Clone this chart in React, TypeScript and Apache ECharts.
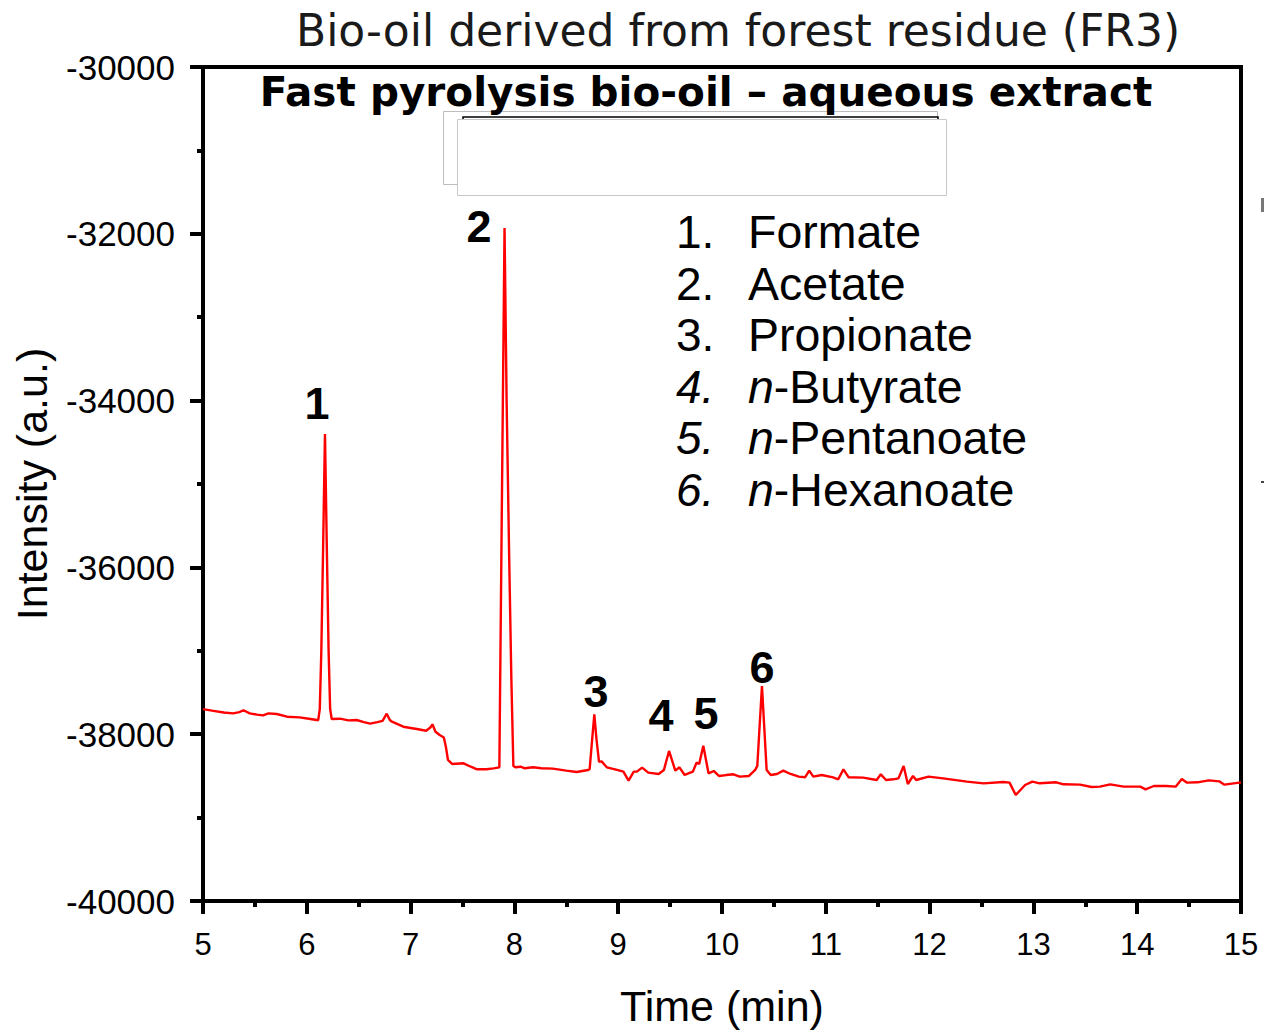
import React, { useEffect, useRef } from "react";
import * as echarts from "echarts";

const timeMin = [
  5.0, 5.1, 5.2, 5.29, 5.35, 5.39, 5.45, 5.52, 5.58, 5.63, 5.71, 5.81, 5.93, 6.02, 6.11,
  6.125, 6.14, 6.158, 6.175, 6.192, 6.21, 6.225, 6.24, 6.32, 6.4, 6.48, 6.55, 6.61, 6.68,
  6.73, 6.77, 6.8, 6.82, 6.93, 7.0, 7.06, 7.15, 7.19, 7.21, 7.24, 7.28, 7.32, 7.34, 7.36,
  7.4, 7.51, 7.58, 7.64, 7.73, 7.8, 7.855, 7.88, 7.905, 7.925, 7.95, 7.97, 7.99, 8.01,
  8.06, 8.1, 8.18, 8.26, 8.37, 8.5, 8.6, 8.71, 8.725, 8.75, 8.77, 8.79, 8.815, 8.84, 8.89,
  8.97, 9.05, 9.1, 9.15, 9.18, 9.23, 9.29, 9.39, 9.44, 9.49, 9.55, 9.59, 9.64, 9.72, 9.755,
  9.78, 9.82, 9.87, 9.92, 9.97, 10.04, 10.11, 10.17, 10.26, 10.32, 10.34, 10.385, 10.43,
  10.47, 10.53, 10.59, 10.66, 10.74, 10.8, 10.84, 10.88, 10.96, 11.07, 11.12, 11.17, 11.22,
  11.36, 11.49, 11.53, 11.58, 11.65, 11.7, 11.75, 11.79, 11.84, 11.87, 11.99, 12.13, 12.36,
  12.52, 12.71, 12.77, 12.83, 12.92, 12.99, 13.06, 13.22, 13.29, 13.45, 13.56, 13.64, 13.74,
  13.87, 14.03, 14.08, 14.16, 14.28, 14.37, 14.43, 14.48, 14.58, 14.69, 14.79, 14.84, 14.93,
  15.0,
];

const intensity = [
  -37700, -37720, -37740, -37750, -37735, -37713, -37750, -37765, -37774, -37750, -37758,
  -37790, -37798, -37815, -37832,
  -37700, -37000, -35700, -34400, -35700, -37000, -37700, -37818, -37814, -37834, -37830,
  -37855, -37874, -37855,
  -37840, -37754, -37830, -37850, -37910, -37925, -37938, -37958, -37920, -37881, -37970,
  -38010, -38040, -38150, -38309,
  -38357, -38349, -38390, -38421, -38421, -38410, -38397, -35150, -31930, -34000, -35900,
  -37300, -38380, -38397,
  -38390, -38409, -38397, -38409, -38413, -38437, -38453, -38429, -38420, -38050, -37762,
  -38050, -38330, -38326, -38397,
  -38421, -38449, -38557, -38449, -38449, -38401, -38461, -38477, -38430, -38201, -38437,
  -38397, -38489, -38449, -38341,
  -38357, -38138, -38469, -38441, -38501, -38490, -38481, -38509, -38501, -38429, -38380,
  -37422, -38429,
  -38489, -38477, -38437, -38477, -38509, -38517, -38437, -38509, -38489, -38517, -38541,
  -38421, -38517,
  -38521, -38549, -38481, -38549, -38541, -38530, -38381, -38597, -38501, -38549, -38509,
  -38530, -38569,
  -38589, -38573, -38581, -38729, -38609, -38569, -38589, -38577, -38601, -38605, -38633,
  -38629, -38601,
  -38629, -38629, -38661, -38621, -38621, -38629, -38537, -38581, -38577, -38553, -38565,
  -38605, -38589,
  -38577,
];

const peakLabels = ["1", "2", "3", "4", "5", "6"];
const peakLabelTime = [6.098, 7.66, 8.786, 9.412, 9.846, 10.385];
const peakLabelIntensity = [-34029, -31918, -37494, -37770, -37746, -37206];

const legendNumbers = ["1.", "2.", "3.", "4.", "5.", "6."];
const legendNames = ["Formate", "Acetate", "Propionate", "{i|n}-Butyrate", "{i|n}-Pentanoate", "{i|n}-Hexanoate"];
const legendItalicNumber = [false, false, false, true, true, true];

const xTicks = { min: 5, max: 15, interval: 1 };
const yTicks = { min: -40000, max: -30000, interval: 2000 };

const titleText = "Bio-oil derived from forest residue (FR3)";
const subtitleText = "Fast pyrolysis bio-oil \u2013 aqueous extract";
const xName = "Time (min)";
const yName = "Intensity (a.u.)";

const ARIAL = "'Liberation Sans', Arial, sans-serif";

export default function App() {
  const ref = useRef<HTMLDivElement>(null);

  useEffect(() => {
    if (!ref.current) return;
    const chart = echarts.init(ref.current, null, { renderer: "svg" });

    const lineData = timeMin.map((t, i) => [t, intensity[i]]);
    const labelData = peakLabelTime.map((t, i) => ({
      value: [t, peakLabelIntensity[i]],
      name: peakLabels[i],
    }));

    const legendGraphics: any[] = [];
    legendNumbers.forEach((n, i) => {
      const cy = 232 + 51.6 * i;
      legendGraphics.push({
        type: "text",
        x: 676,
        y: cy,
        z: 20,
        style: {
          text: n,
          fontFamily: ARIAL,
          fontSize: 46,
          fontStyle: legendItalicNumber[i] ? "italic" : "normal",
          fill: "#000",
          textAlign: "left",
          textVerticalAlign: "middle",
        },
      });
      legendGraphics.push({
        type: "text",
        x: 748,
        y: cy,
        z: 20,
        style: {
          text: legendNames[i],
          fontFamily: ARIAL,
          fontSize: 46.5,
          fill: "#000",
          textAlign: "left",
          textVerticalAlign: "middle",
          rich: {
            i: { fontFamily: ARIAL, fontSize: 46.5, fontStyle: "italic", fill: "#000" },
          },
        },
      });
    });

    const option: any = {
      animation: false,
      backgroundColor: "#fff",
      grid: {
        left: 203,
        right: 23,
        top: 67,
        bottom: 132,
        show: true,
        borderColor: "#000",
        borderWidth: 4,
        backgroundColor: "transparent",
      },
      xAxis: {
        type: "value",
        min: xTicks.min,
        max: xTicks.max,
        interval: xTicks.interval,
        name: xName,
        nameLocation: "middle",
        nameGap: 83,
        nameTextStyle: { fontFamily: ARIAL, fontSize: 43, color: "#000" },
        axisLine: { show: true, onZero: false, lineStyle: { color: "#000", width: 4 } },
        axisTick: { show: true, inside: false, length: 13, lineStyle: { color: "#000", width: 4 } },
        minorTick: { show: true, splitNumber: 2, length: 6, lineStyle: { color: "#000", width: 4 } },
        axisLabel: { fontFamily: ARIAL, fontSize: 31, color: "#000", margin: 28 },
        splitLine: { show: false },
      },
      yAxis: {
        type: "value",
        min: yTicks.min,
        max: yTicks.max,
        interval: yTicks.interval,
        name: yName,
        nameLocation: "middle",
        nameGap: 150,
        nameTextStyle: { fontFamily: ARIAL, fontSize: 43, color: "#000" },
        axisLine: { show: true, onZero: false, lineStyle: { color: "#000", width: 4 } },
        axisTick: { show: true, inside: false, length: 13, lineStyle: { color: "#000", width: 4 } },
        minorTick: { show: true, splitNumber: 2, length: 6, lineStyle: { color: "#000", width: 4 } },
        axisLabel: {
          fontFamily: ARIAL,
          fontSize: 35,
          color: "#000",
          margin: 28,
          formatter: (v: number) => String(v),
        },
        splitLine: { show: false },
      },
      series: [
        {
          type: "line",
          data: lineData,
          showSymbol: false,
          symbol: "none",
          lineStyle: { color: "#ff0000", width: 2.4 },
          z: 5,
        },
        {
          type: "scatter",
          data: labelData,
          symbolSize: 1,
          itemStyle: { color: "rgba(255,255,255,0)" },
          label: {
            show: true,
            position: "inside",
            formatter: (p: any) => p.name,
            fontFamily: ARIAL,
            fontSize: 45,
            fontWeight: "bold",
            color: "#000",
            opacity: 1,
            textBorderWidth: 0,
          },
          z: 6,
        },
      ],
      graphic: [
        {
          type: "rect",
          z: 10,
          shape: { x: 443.5, y: 111.5, width: 494, height: 73 },
          style: { fill: "#fff", stroke: "#bdbdbd", lineWidth: 1 },
        },
        {
          type: "rect",
          z: 11,
          shape: { x: 463, y: 117, width: 475, height: 60 },
          style: { fill: "#fff", stroke: "#000", lineWidth: 1.5 },
        },
        {
          type: "rect",
          z: 12,
          shape: { x: 457.5, y: 119.5, width: 489, height: 76 },
          style: { fill: "#fff", stroke: "#c8c8c8", lineWidth: 1 },
        },
        {
          type: "text",
          x: 738,
          y: 30,
          z: 20,
          style: {
            text: titleText,
            fontFamily: "'DejaVu Sans', sans-serif",
            fontSize: 44,
            fontWeight: "normal",
            fill: "#1a1a1a",
            textAlign: "center",
            textVerticalAlign: "middle",
          },
        },
        {
          type: "text",
          x: 706,
          y: 92,
          z: 20,
          style: {
            text: subtitleText,
            fontFamily: "'DejaVu Sans', sans-serif",
            fontSize: 40.5,
            fontWeight: "bold",
            fill: "#000",
            textAlign: "center",
            textVerticalAlign: "middle",
          },
        },
        {
          type: "rect",
          z: 20,
          shape: { x: 1261, y: 198, width: 3, height: 14 },
          style: { fill: "#777" },
        },
        {
          type: "rect",
          z: 20,
          shape: { x: 1261, y: 481, width: 3, height: 2 },
          style: { fill: "#444" },
        },
        ...legendGraphics,
      ],
    };

    chart.setOption(option);
    return () => chart.dispose();
  }, []);

  return (
    <div
      ref={ref}
      style={{ position: "fixed", left: 0, top: 0, width: 1264, height: 1033, background: "#fff" }}
    />
  );
}
